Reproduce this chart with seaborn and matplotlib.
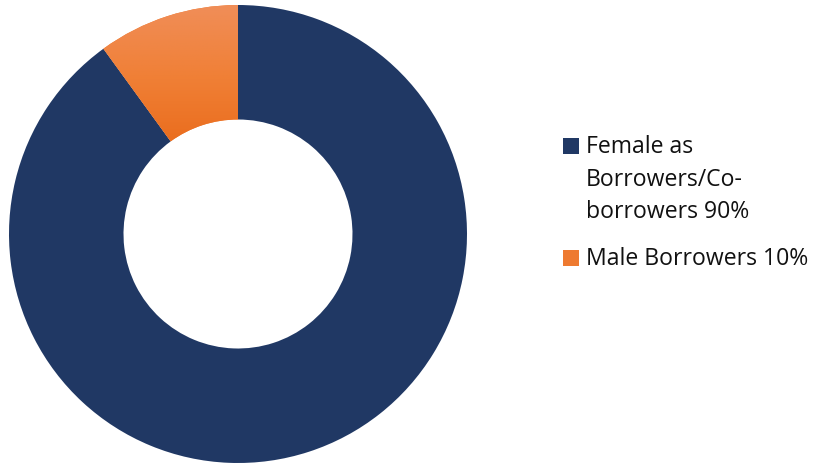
import matplotlib
matplotlib.use("Agg")
import matplotlib.pyplot as plt
import seaborn as sns
import numpy as np
from matplotlib.patches import Rectangle
from matplotlib.colors import LinearSegmentedColormap

categories = ["Female as\nBorrowers/Co-\nborrowers 90%", "Male Borrowers 10%"]
values = [90, 10]
colors = ["#203864", "#EE7A30"]

sns.set_theme(style="white")
plt.rcParams['font.family'] = ['Open Sans', 'DejaVu Sans']

W, H = 815, 465
fig = plt.figure(figsize=(W / 100, H / 100), dpi=100)
cx, cy, r = 238, 465 - 234, 229
ax = fig.add_axes([(cx - r) / W, (cy - r) / H, 2 * r / W, 2 * r / H])

wedges, _ = ax.pie(values, colors=colors, startangle=90, counterclock=False,
                   radius=1.0, wedgeprops=dict(width=0.5, edgecolor="none"))
ax.set_aspect("equal")
ax.axis("off")

# gradient on the orange slice
cmap = LinearSegmentedColormap.from_list("og", ["#E96A1A", "#F07F35", "#F08E58"])
grad = np.linspace(0, 1, 256).reshape(-1, 1)
im = ax.imshow(grad, cmap=cmap, origin="lower", extent=[-0.65, 0.05, 0.35, 1.0],
               aspect="auto", zorder=3)
im.set_clip_path(wedges[1])
ax.set_xlim(-1, 1)
ax.set_ylim(-1, 1)

# legend drawn manually: square aligned with first line of each label
renderer = fig.canvas.get_renderer()
probe = fig.text(0, 0, categories[1], fontsize=15)
wpx = probe.get_window_extent(renderer).width
probe.remove()
fs = 15 * 222 / wpx

line_px = 32.5
first_baselines = [153, 265]
text_x = 586
for lab, col, b0 in zip(categories, colors, first_baselines):
    fig.patches.append(Rectangle((563 / W, 1 - (b0 + 1) / H), 16 / W, 16 / H,
                                 transform=fig.transFigure, facecolor=col,
                                 edgecolor="none"))
    for i, line in enumerate(lab.split("\n")):
        fig.text(text_x / W, 1 - (b0 + i * line_px) / H, line, fontsize=fs,
                 color="#111111", va="baseline", ha="left")

fig.savefig("out.png", dpi=100, facecolor="white")
